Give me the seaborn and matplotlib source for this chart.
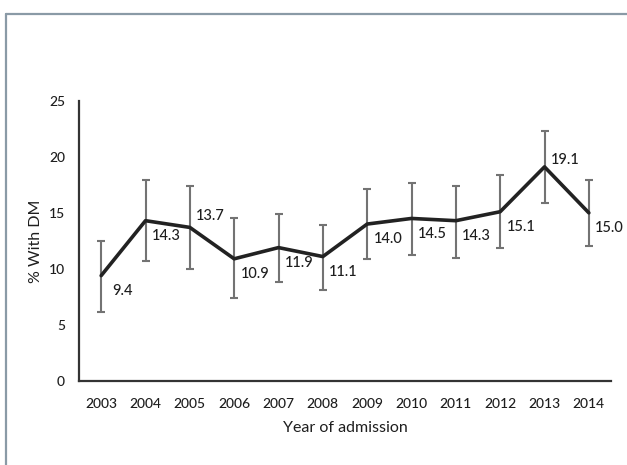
import seaborn as sns
import matplotlib.pyplot as plt
import pandas as pd
from matplotlib.lines import Line2D

# values
years = [2003, 2004, 2005, 2006, 2007, 2008, 2009, 2010, 2011, 2012, 2013, 2014]
pct_dm = [9.4, 14.3, 13.7, 10.9, 11.9, 11.1, 14.0, 14.5, 14.3, 15.1, 19.1, 15.0]
ci_low = [6.2, 10.7, 10.0, 7.4, 8.8, 8.1, 10.9, 11.2, 11.0, 11.9, 15.9, 12.0]
ci_high = [12.5, 17.9, 17.4, 14.5, 14.9, 13.9, 17.1, 17.7, 17.4, 18.4, 22.3, 17.9]
y_ticks = [0, 5, 10, 15, 20, 25]

df = pd.DataFrame({'year': years, 'pct': pct_dm, 'lo': ci_low, 'hi': ci_high})

sns.set_theme(style='white')
plt.rcParams['font.family'] = ['Lato', 'DejaVu Sans']
plt.rcParams['font.weight'] = 'medium'
txt_col = '#1e1e1e'

fig = plt.figure(figsize=(6.27, 4.65), dpi=100)
ax = fig.add_axes([0.126, 0.1806, 0.8485, 0.6028])

# error bars first, then the line on top
ax.errorbar(df['year'], df['pct'],
            yerr=[df['pct'] - df['lo'], df['hi'] - df['pct']],
            fmt='none', ecolor='#737373', elinewidth=1.5, capsize=3.2, capthick=1.5)
sns.lineplot(data=df, x='year', y='pct', ax=ax, color='#222222', linewidth=2.6)

# data labels: most sit below-right of the point, two sit above
up_labels = {2005: 8, 2013: 5}
for yr, v in zip(years, pct_dm):
    dy = up_labels.get(yr, -11)
    ax.annotate(f'{v:.1f}', (yr, v), xytext=(15, dy), textcoords='offset points',
                ha='center', va='center', fontsize=10.5, color=txt_col)

ax.set_xlim(2002.5, 2014.5)
ax.set_ylim(0, 25)
ax.set_xticks(years)
ax.set_yticks(y_ticks)
ax.tick_params(axis='both', length=0, labelsize=10, colors=txt_col)
ax.tick_params(axis='x', pad=12)
ax.tick_params(axis='y', pad=10)
ax.set_xlabel('Year of admission', fontsize=11.5, color=txt_col, labelpad=8)
ax.set_ylabel('% With DM', fontsize=11.5, color=txt_col, labelpad=4)

for side in ['top', 'right']:
    ax.spines[side].set_visible(False)
for side in ['left', 'bottom']:
    ax.spines[side].set_color('#333333')
    ax.spines[side].set_linewidth(1.6)

# frame of the original picture (top and left edges only)
fig.add_artist(Line2D([6 / 627, 1], [1 - 14 / 465, 1 - 14 / 465], color='#8a9aa6', linewidth=1.6))
fig.add_artist(Line2D([6 / 627, 6 / 627], [0, 1 - 14 / 465], color='#8a9aa6', linewidth=1.6))

plt.savefig('out.png', dpi=100)
